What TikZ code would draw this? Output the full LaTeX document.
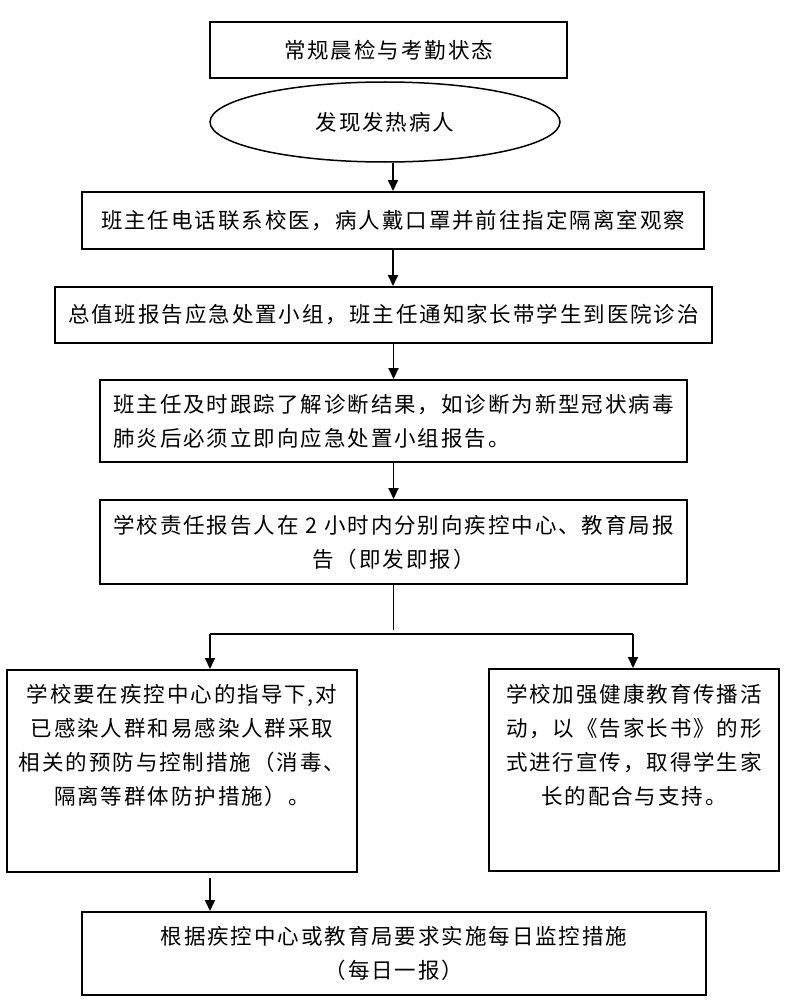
\documentclass[tikz,border=0pt]{standalone}
\usepackage{fontspec}
\newfontfamily\cjkfam[LetterSpace=9]{Noto Sans CJK SC}
\newcommand\mytxt{\cjkfam\fontsize{21.5}{34}\selectfont}
\usetikzlibrary{arrows.meta,shapes.geometric}
\begin{document}
\begin{tikzpicture}[x=1pt,y=-1pt,
  box/.style={draw,line width=2pt,rectangle,inner sep=0pt,align=center,font=\mytxt},
  txtnode/.style={inner sep=0pt,align=center,font=\mytxt},
  arr/.style={line width=1.8pt,-{Triangle[length=11pt,width=10pt]}},
  ln/.style={line width=1.8pt}]
\useasboundingbox (0,0) rectangle (796,1006);
\fill[white] (0,0) rectangle (796,1006);

\node[box,minimum width=357pt,minimum height=56pt] (b1) at (388.5,50) {常规晨检与考勤状态};
\node[draw,ellipse,line width=1.5pt,inner sep=0pt,minimum width=350pt,minimum height=80pt,font=\mytxt] (e) at (385,122) {发现发热病人};
\node[box,minimum width=622pt,minimum height=57pt] (b2) at (393,220.5) {班主任电话联系校医，病人戴口罩并前往指定隔离室观察};
\node[box,minimum width=657pt,minimum height=56pt] (b3) at (383.5,315) {总值班报告应急处置小组，班主任通知家长带学生到医院诊治};
\node[box,align=left,minimum width=587pt,minimum height=82pt] (b4) at (393.5,421) {班主任及时跟踪了解诊断结果，如诊断为新型冠状病毒\\肺炎后必须立即向应急处置小组报告。};
\node[box,minimum width=587pt,minimum height=84pt] (b5) at (393.5,542) {学校责任报告人在 2 小时内分别向疾控中心、教育局报\\告（即发即报）};
\node[box,minimum width=350pt,minimum height=202pt] (bl) at (182,771) {};
\node[box,minimum width=290pt,minimum height=202pt] (br) at (634,770) {};
\node[txtnode,anchor=north] (tl) at (182,684) {学校要在疾控中心的指导下,对\\已感染人群和易感染人群采取\\相关的预防与控制措施（消毒、\\隔离等群体防护措施）。};
\node[txtnode,anchor=north] (tr) at (634,684) {学校加强健康教育传播活\\动，以《告家长书》的形\\式进行宣传，取得学生家\\长的配合与支持。};
\node[box,minimum width=624pt,minimum height=83pt] (b6) at (394,953.5) {根据疾控中心或教育局要求实施每日监控措施\\（每日一报）};

\coordinate (j) at (393.5,630);
\coordinate (jl) at (210,634);
\coordinate (jr) at (633,634);
\coordinate (ja) at (210,878);

\draw[arr] (e.south -| b2.north) -- (b2.north);
\draw[arr] (b2.south) -- (b2.south |- b3.north);
\draw[arr] (b4.north |- b3.south) -- (b4.north);
\draw[arr] (b4.south) -- (b5.north);
\draw[ln] (b5.south) -- (j);
\draw[ln] (jl) -- (jr);
\draw[arr] (jl) -- (jl |- bl.north);
\draw[arr] (jr) -- (jr |- br.north);
\draw[arr] (ja) -- (ja |- b6.north);
\end{tikzpicture}
\end{document}
